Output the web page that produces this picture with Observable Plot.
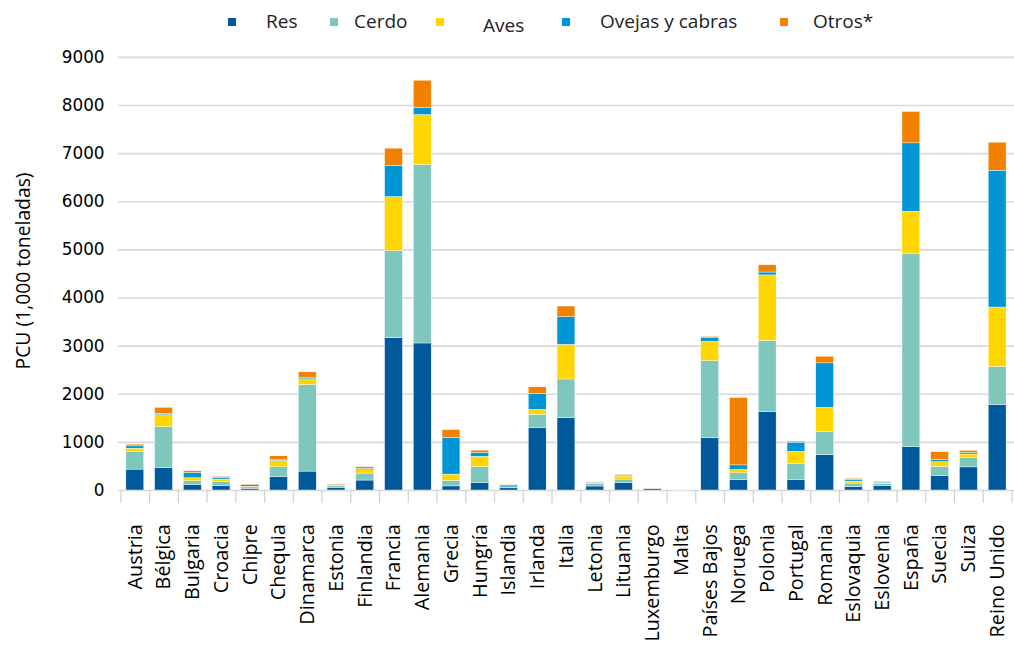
<!DOCTYPE html>
<html><head><meta charset="utf-8">
<script src="https://cdn.jsdelivr.net/npm/d3@7"></script>
<script src="https://cdn.jsdelivr.net/npm/@observablehq/plot@0.6"></script>
<style>
html,body{margin:0;padding:0;background:#fff;overflow:hidden;}
#wrap{position:relative;width:1014px;height:650px;overflow:hidden;}
#legend{position:relative;height:40px;font-family:"Open Sans",Lato,sans-serif;font-size:19px;line-height:19px;color:#222;}
.sw{position:absolute;width:8px;height:8px;top:18px;}
.lt{position:absolute;top:12px;white-space:nowrap;}
#chart svg{display:block;overflow:visible;}
</style></head>
<body><div id="wrap"><div id="legend"></div><div id="chart"></div></div>
<script>
const countries = ["Austria","Bélgica","Bulgaria","Croacia","Chipre","Chequia","Dinamarca","Estonia","Finlandia","Francia","Alemania","Grecia","Hungría","Islandia","Irlanda","Italia","Letonia","Lituania","Luxemburgo","Malta","Países Bajos","Noruega","Polonia","Portugal","Romania","Eslovaquia","Eslovenia","España","Suecia","Suiza","Reino Unido"];
const series = ["Res","Cerdo","Aves","Ovejas y cabras","Otros*"];
const colors = ["#00599b","#7fc6bd","#ffd600","#0096d6","#f28100"];
const res    = [434,462,110,90,35,283,393,55,207,3164,3055,85,160,45,1292,1507,83,159,38,1,1084,220,1633,220,734,69,96,899,302,480,1778];
const cerdo  = [366,855,83,89,30,200,1800,35,145,1809,3705,115,330,3,281,801,45,69,2,5,1606,137,1476,336,481,75,34,4022,192,200,789];
const aves   = [69,249,62,49,15,131,117,13,69,1123,1041,130,210,5,100,719,25,62,1,1,399,68,1360,247,501,41,21,872,96,68,1235];
const ovejas = [48,27,111,27,30,27,35,7,27,644,151,762,83,30,334,576,10,20,1,0.5,75,97,60,192,926,35,14,1420,41,34,2842];
const otros  = [35,124,34,28,10,69,110,14,35,363,562,162,45,27,137,219,7,14,1,0.5,27,1400,150,21,138,20,13,652,165,42,583];
const yTicks = [0,1000,2000,3000,4000,5000,6000,7000,8000,9000];
const yLabel = "PCU (1,000 toneladas)";
</script>
<script>
const cols = [res, cerdo, aves, ovejas, otros];
const rows = [];
countries.forEach((c, i) => series.forEach((s, j) => rows.push({country: c, series: s, value: cols[j][i]})));

// legend
const legend = document.getElementById("legend");
const swX = [228, 330, 436, 562, 780];
const txX = [266, 354, 483, 600, 813];
const txDy = [0, 0, 4, 0, 0];
series.forEach((s, i) => {
  const sw = document.createElement("div");
  sw.className = "sw"; sw.style.left = swX[i] + "px"; sw.style.background = colors[i];
  legend.appendChild(sw);
  const t = document.createElement("div");
  t.className = "lt"; t.style.left = txX[i] + "px"; t.style.top = (12 + txDy[i]) + "px"; t.textContent = s;
  legend.appendChild(t);
});

const W = 1023, ML = 119, MR = 0;
const step = (W - ML - MR) / countries.length;
const last = countries[countries.length - 1];
const labelFont = "'Open Sans', Lato, sans-serif";

const chart = Plot.plot({
  width: W, height: 610,
  marginTop: 17, marginBottom: 156, marginLeft: ML, marginRight: MR,
  style: {fontFamily: "'DejaVu Sans', Verdana, sans-serif", fontSize: "17px", color: "#000", background: "#fff"},
  x: {domain: countries, paddingInner: 0.37, paddingOuter: 0.185, label: null},
  y: {domain: [0, 9000], label: null},
  color: {domain: series, range: colors},
  marks: [
    Plot.ruleY(yTicks, {stroke: "#d9d9d9", strokeWidth: 1.6}),
    Plot.axisY({ticks: yTicks, tickSize: 0, tickPadding: 14, tickFormat: d => String(d), label: null, fontSize: 17}),
    Plot.axisX({tickSize: 0, tickPadding: 34, tickRotate: -90, label: null, fontSize: 20, fontFamily: labelFont}),
    Plot.ruleX(countries, {x: d => d, y1: 0, y2: 0, insetBottom: -13, dx: -step / 2, stroke: "#d0d0d0", strokeWidth: 1.2}),
    Plot.ruleX([last], {x: d => d, y1: 0, y2: 0, insetBottom: -13, dx: step / 2, stroke: "#d0d0d0", strokeWidth: 1.2}),
    Plot.barY(rows, {x: "country", y: "value", fill: "series", order: series, stroke: "#fff", strokeWidth: 0.4}),
    Plot.text([yLabel], {frameAnchor: "left", textAnchor: "middle", dx: -95, dy: -3, rotate: -90, fontSize: 19.5, fontFamily: labelFont, fill: "#000"})
  ]
});
document.getElementById("chart").appendChild(chart);
</script>
</body></html>
